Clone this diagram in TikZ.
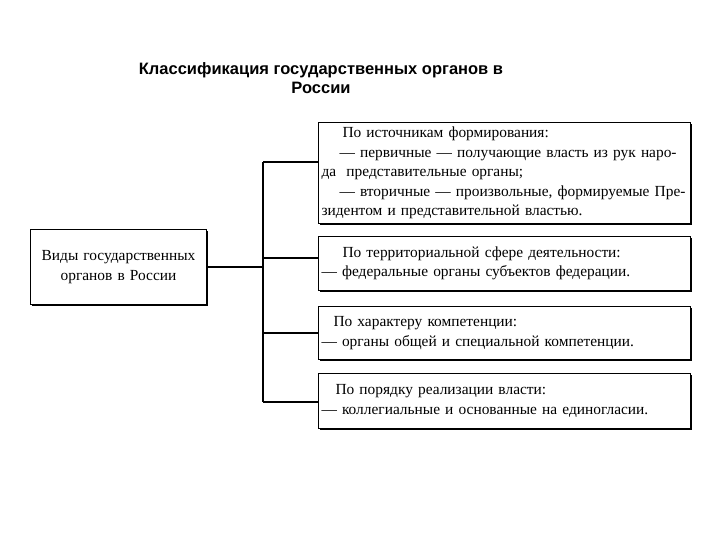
\documentclass[tikz,border=0pt]{standalone}
\usepackage{fontspec}
\setmainfont{Liberation Serif}
\newfontfamily\headfont{Liberation Sans}
\usetikzlibrary{positioning, shadows}

\newcommand{\fullline}[1]{\makebox[\linewidth][s]{#1}}

\begin{document}
\begin{tikzpicture}[x=1pt, y=-1pt,
            box/.style={draw, line width=1pt, fill=white, anchor=north west,
                    drop shadow={shadow xshift=1.5pt, shadow yshift=-1.5pt,
                        fill=black, opacity=1},
                    minimum width=372pt, text width=366pt, align=left,
                    inner xsep=3pt, font=\fontsize{15.4}{19.5}\selectfont},
            link/.style={line width=1.4pt}]
        \useasboundingbox (0,0) rectangle (720,540);

        \node[font=\headfont\bfseries\fontsize{16.5}{19}\selectfont, align=center]
        (title) at (321,78) {Классификация государственных органов в\\России};

        \node[box, minimum width=176pt, minimum height=75pt, text width=168pt,
            align=center] (vid) at (30,229) {Виды государственных\\органов в России};

        \node[box, minimum height=101pt] (src) at (318,122)
        {\hspace*{21pt}По источникам формирования:\\
            \fullline{\hspace*{18pt}— первичные — получающие власть из рук наро-}\\
            да \ представительные органы;\\
            \fullline{\hspace*{18pt}— вторичные — произвольные, формируемые Пре-}\\
            зидентом и представительной властью.};

        \node[box, minimum height=54pt] (terr) at (318,236)
        {\hspace*{21pt}По территориальной сфере деятельности:\\
            — федеральные органы субъектов федерации.};

        \node[box, minimum height=53pt] (comp) at (318,306)
        {\hspace*{12pt}По характеру компетенции:\\
            — органы общей и специальной компетенции.};

        \node[box, minimum height=55pt] (real) at (318,373)
        {\hspace*{14pt}По порядку реализации власти:\\
            — коллегиальные и основанные на единогласии.};

        % tree of links
        \coordinate (fork) at (263,162);
        \coordinate (forkend) at (263,402);
        \coordinate (terrfork) at (263,258);
        \coordinate (compfork) at (263,333);
        \draw[link] (fork) -- (forkend);
        \draw[link] (vid.east) -- (vid.east -| fork);
        \draw[link] (fork) -- (fork -| src.west);
        \draw[link] (terrfork) -- (terrfork -| terr.west);
        \draw[link] (compfork) -- (compfork -| comp.west);
        \draw[link] (forkend) -- (forkend -| real.west);
    \end{tikzpicture}
\end{document}
